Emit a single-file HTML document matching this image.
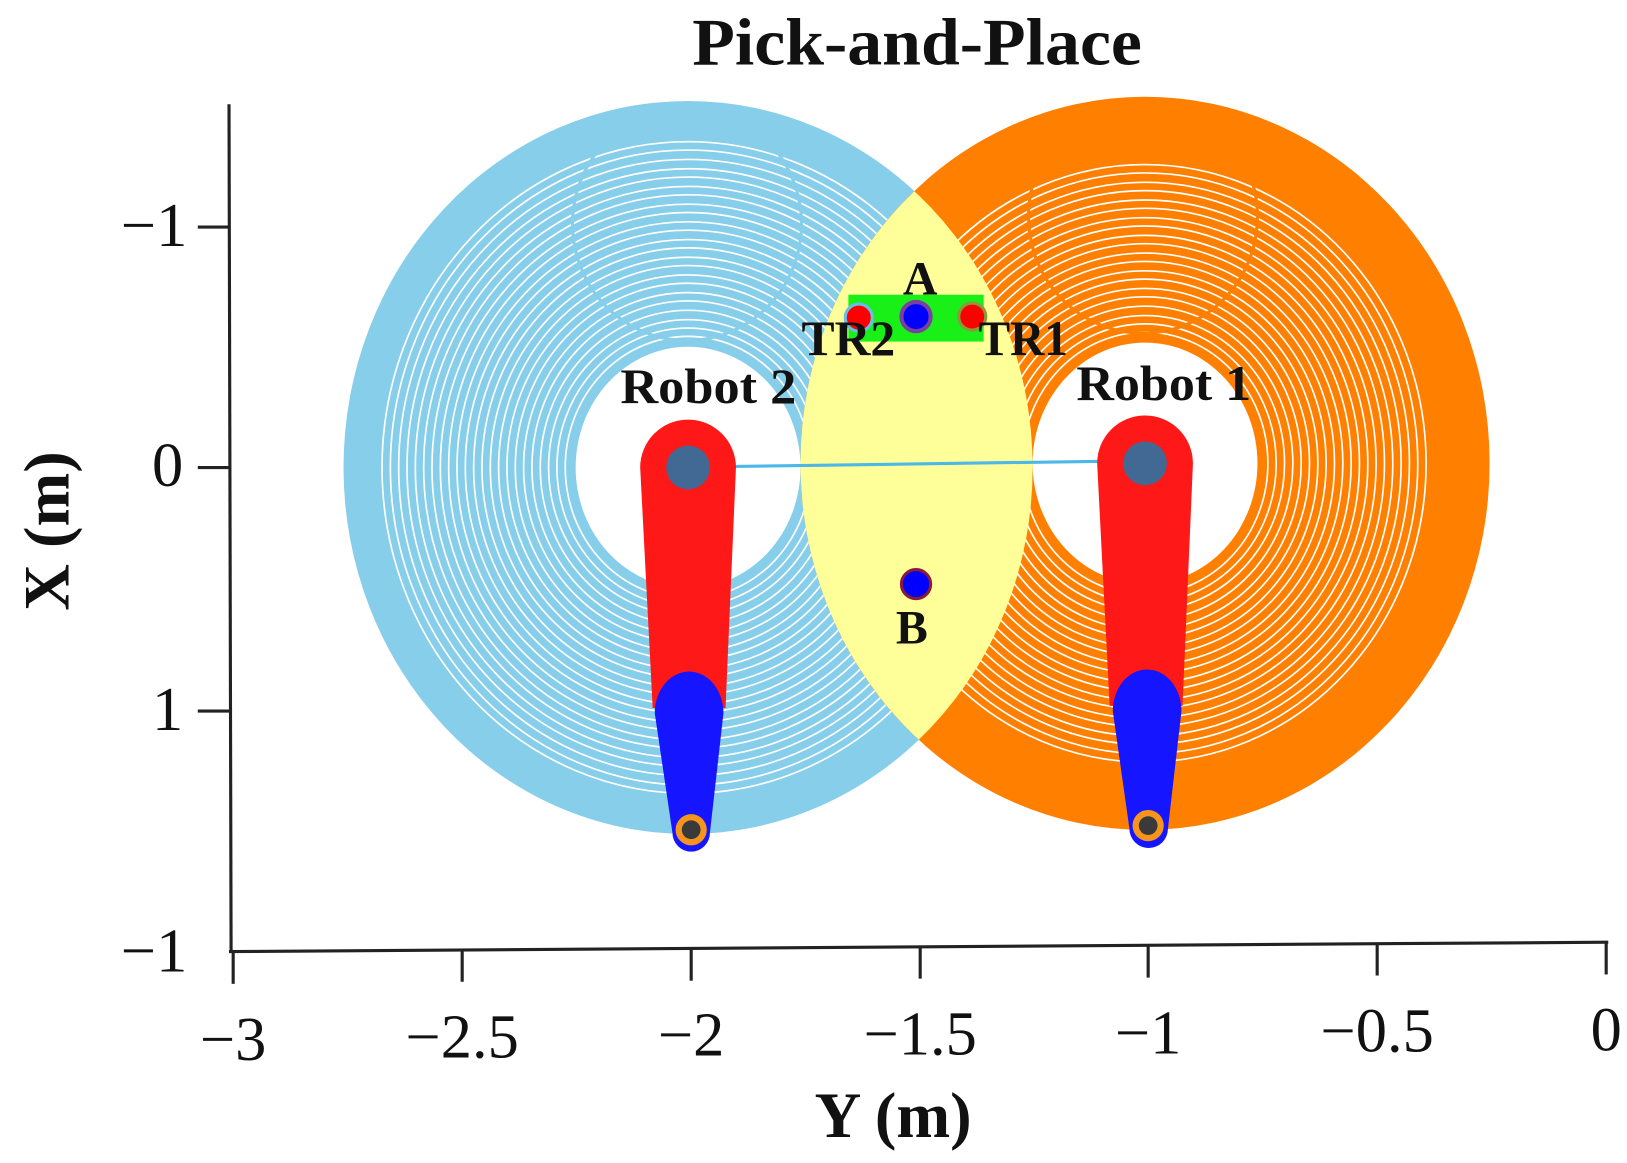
<!DOCTYPE html>
<html><head><meta charset="utf-8"><style>
html,body{margin:0;padding:0;background:#fff;}
svg{display:block;}
text{font-family:"Liberation Serif",serif;fill:#111;}
</style></head><body>
<svg width="1627" height="1163" viewBox="0 0 1563 1117" xmlns="http://www.w3.org/2000/svg">
<defs>
<clipPath id="c2"><path clip-rule="evenodd" d="M330,449 a331,352 0 1,0 662,0 a331,352 0 1,0 -662,0 Z M553,449 a108,116 0 1,0 216,0 a108,116 0 1,0 -216,0 Z"/></clipPath>
<clipPath id="c1"><path clip-rule="evenodd" d="M769,445 a331,352 0 1,0 662,0 a331,352 0 1,0 -662,0 Z M992,445 a108,116 0 1,0 216,0 a108,116 0 1,0 -216,0 Z"/></clipPath>
<clipPath id="lens"><ellipse cx="1100" cy="445" rx="331" ry="352"/></clipPath>
</defs>
<g clip-path="url(#c2)">
<rect x="300" y="80" width="720" height="740" fill="#87ceeb"/>
<g fill="none" stroke="#fff" stroke-width="1.6">
<ellipse cx="661" cy="449" rx="118" ry="126"/><ellipse cx="661" cy="449" rx="126" ry="134"/>
<ellipse cx="661" cy="449" rx="134" ry="142"/><ellipse cx="661" cy="449" rx="142" ry="151"/>
<ellipse cx="661" cy="449" rx="150" ry="160"/><ellipse cx="661" cy="449" rx="158" ry="168"/>
<ellipse cx="661" cy="449" rx="166" ry="177"/><ellipse cx="661" cy="449" rx="174" ry="185"/>
<ellipse cx="661" cy="449" rx="182" ry="194"/><ellipse cx="661" cy="449" rx="190" ry="202"/>
<ellipse cx="661" cy="449" rx="198" ry="211"/><ellipse cx="661" cy="449" rx="206" ry="219"/>
<ellipse cx="661" cy="449" rx="214" ry="228"/><ellipse cx="661" cy="449" rx="222" ry="236"/>
<ellipse cx="661" cy="449" rx="230" ry="245"/><ellipse cx="661" cy="449" rx="238" ry="253"/>
<ellipse cx="661" cy="449" rx="246" ry="262"/><ellipse cx="661" cy="449" rx="254" ry="270"/>
<ellipse cx="661" cy="449" rx="262" ry="279"/><ellipse cx="661" cy="449" rx="270" ry="287"/>
<ellipse cx="661" cy="449" rx="278" ry="296"/><ellipse cx="661" cy="449" rx="286" ry="305"/>
<ellipse cx="661" cy="449" rx="294" ry="313"/>
</g>
<ellipse cx="660" cy="215" rx="110" ry="112" fill="none" stroke="#87ceeb" stroke-width="3"/>
</g>
<g clip-path="url(#c1)">
<rect x="740" y="80" width="720" height="740" fill="#ff8000"/>
<g fill="none" stroke="#fff" stroke-width="1.6">
<ellipse cx="1100" cy="445" rx="118" ry="126"/><ellipse cx="1100" cy="445" rx="126" ry="134"/>
<ellipse cx="1100" cy="445" rx="134" ry="142"/><ellipse cx="1100" cy="445" rx="142" ry="151"/>
<ellipse cx="1100" cy="445" rx="150" ry="160"/><ellipse cx="1100" cy="445" rx="158" ry="168"/>
<ellipse cx="1100" cy="445" rx="166" ry="177"/><ellipse cx="1100" cy="445" rx="174" ry="185"/>
<ellipse cx="1100" cy="445" rx="182" ry="194"/><ellipse cx="1100" cy="445" rx="190" ry="202"/>
<ellipse cx="1100" cy="445" rx="198" ry="211"/><ellipse cx="1100" cy="445" rx="206" ry="219"/>
<ellipse cx="1100" cy="445" rx="214" ry="228"/><ellipse cx="1100" cy="445" rx="222" ry="236"/>
<ellipse cx="1100" cy="445" rx="230" ry="245"/><ellipse cx="1100" cy="445" rx="238" ry="253"/>
<ellipse cx="1100" cy="445" rx="246" ry="262"/><ellipse cx="1100" cy="445" rx="254" ry="270"/>
<ellipse cx="1100" cy="445" rx="262" ry="279"/><ellipse cx="1100" cy="445" rx="270" ry="287"/>
</g>
<ellipse cx="1098" cy="208" rx="110" ry="112" fill="none" stroke="#ff8000" stroke-width="3"/>
</g>
<g clip-path="url(#lens)">
<ellipse cx="661" cy="449" rx="331" ry="352" fill="#ffff99"/>
</g>
<line x1="705" y1="448" x2="1060" y2="443" stroke="#4db8e8" stroke-width="3"/>
<path d="M615,449 A46,46 0 0 1 707,449 L697,680 L627,680 Z" fill="#fe1818"/>
<path d="M629,685 A33,40 0 0 1 695,685 L682,800 A18,18 0 0 1 646,800 Z" fill="#1515ff"/>
<circle cx="661" cy="449" r="21" fill="#416994"/>
<circle cx="664" cy="797" r="15" fill="#f7941d"/><circle cx="664" cy="797" r="9" fill="#3a3a3a"/>
<path d="M1054,445 A46,46 0 0 1 1146,445 L1136,678 L1066,678 Z" fill="#fe1818"/>
<path d="M1069,683 A33,40 0 0 1 1135,683 L1122,796 A18,18 0 0 1 1085,796 Z" fill="#1515ff"/>
<circle cx="1100" cy="445" r="21" fill="#416994"/>
<circle cx="1103" cy="793" r="15" fill="#f7941d"/><circle cx="1103" cy="793" r="9" fill="#3a3a3a"/>
<rect x="815" y="283" width="130" height="45" fill="#18f018"/>
<circle cx="825" cy="305" r="13" fill="#ff0000" stroke="#69bde8" stroke-width="3"/>
<circle cx="880" cy="304" r="14" fill="#0000ff" stroke="#7a3fa0" stroke-width="4"/>
<circle cx="934" cy="304" r="13" fill="#ff0000" stroke="#8a9a3a" stroke-width="3"/>
<circle cx="880" cy="561" r="14" fill="#0000ff" stroke="#8b1a3a" stroke-width="3"/>
<g font-weight="bold">
<text x="884" y="283" text-anchor="middle" font-size="46">A</text>
<text x="770" y="341" font-size="48" textLength="90" lengthAdjust="spacingAndGlyphs">TR2</text>
<text x="940" y="341" font-size="48" textLength="86" lengthAdjust="spacingAndGlyphs">TR1</text>
<text x="596" y="387" font-size="48" textLength="169" lengthAdjust="spacingAndGlyphs">Robot 2</text>
<text x="1034" y="384" font-size="48" textLength="168" lengthAdjust="spacingAndGlyphs">Robot 1</text>
<text x="876" y="618" text-anchor="middle" font-size="46">B</text>
</g>
<text x="665" y="62" font-size="64" font-weight="bold" textLength="432" lengthAdjust="spacingAndGlyphs">Pick-and-Place</text>
<g stroke="#222" stroke-width="3" fill="none">
<line x1="220" y1="100" x2="222" y2="915"/>
<line x1="220" y1="914" x2="1545" y2="905"/>
<line x1="190" y1="218" x2="220" y2="218"/>
<line x1="190" y1="449" x2="220" y2="449"/>
<line x1="190" y1="683" x2="220" y2="683"/>
<line x1="224" y1="914" x2="224" y2="945"/>
<line x1="444" y1="912" x2="444" y2="943"/>
<line x1="664" y1="911" x2="664" y2="942"/>
<line x1="884" y1="909" x2="884" y2="940"/>
<line x1="1103" y1="908" x2="1103" y2="939"/>
<line x1="1323" y1="906" x2="1323" y2="937"/>
<line x1="1543" y1="905" x2="1543" y2="936"/>
</g>
<g font-size="60">
<text x="180" y="236" text-anchor="end">−1</text>
<text x="176" y="467" text-anchor="end">0</text>
<text x="176" y="701" text-anchor="end">1</text>
<text x="180" y="933" text-anchor="end">−1</text>
<text x="224" y="1018" text-anchor="middle">−3</text>
<text x="444" y="1016" text-anchor="middle">−2.5</text>
<text x="664" y="1014" text-anchor="middle">−2</text>
<text x="884" y="1013" text-anchor="middle">−1.5</text>
<text x="1103" y="1012" text-anchor="middle">−1</text>
<text x="1323" y="1010" text-anchor="middle">−0.5</text>
<text x="1543" y="1009" text-anchor="middle">0</text>
</g>
<text x="858" y="1092" text-anchor="middle" font-size="62" font-weight="bold">Y (m)</text>
<text transform="translate(66,510) rotate(-90)" text-anchor="middle" font-size="62" font-weight="bold">X (m)</text>
</svg>
</body></html>
